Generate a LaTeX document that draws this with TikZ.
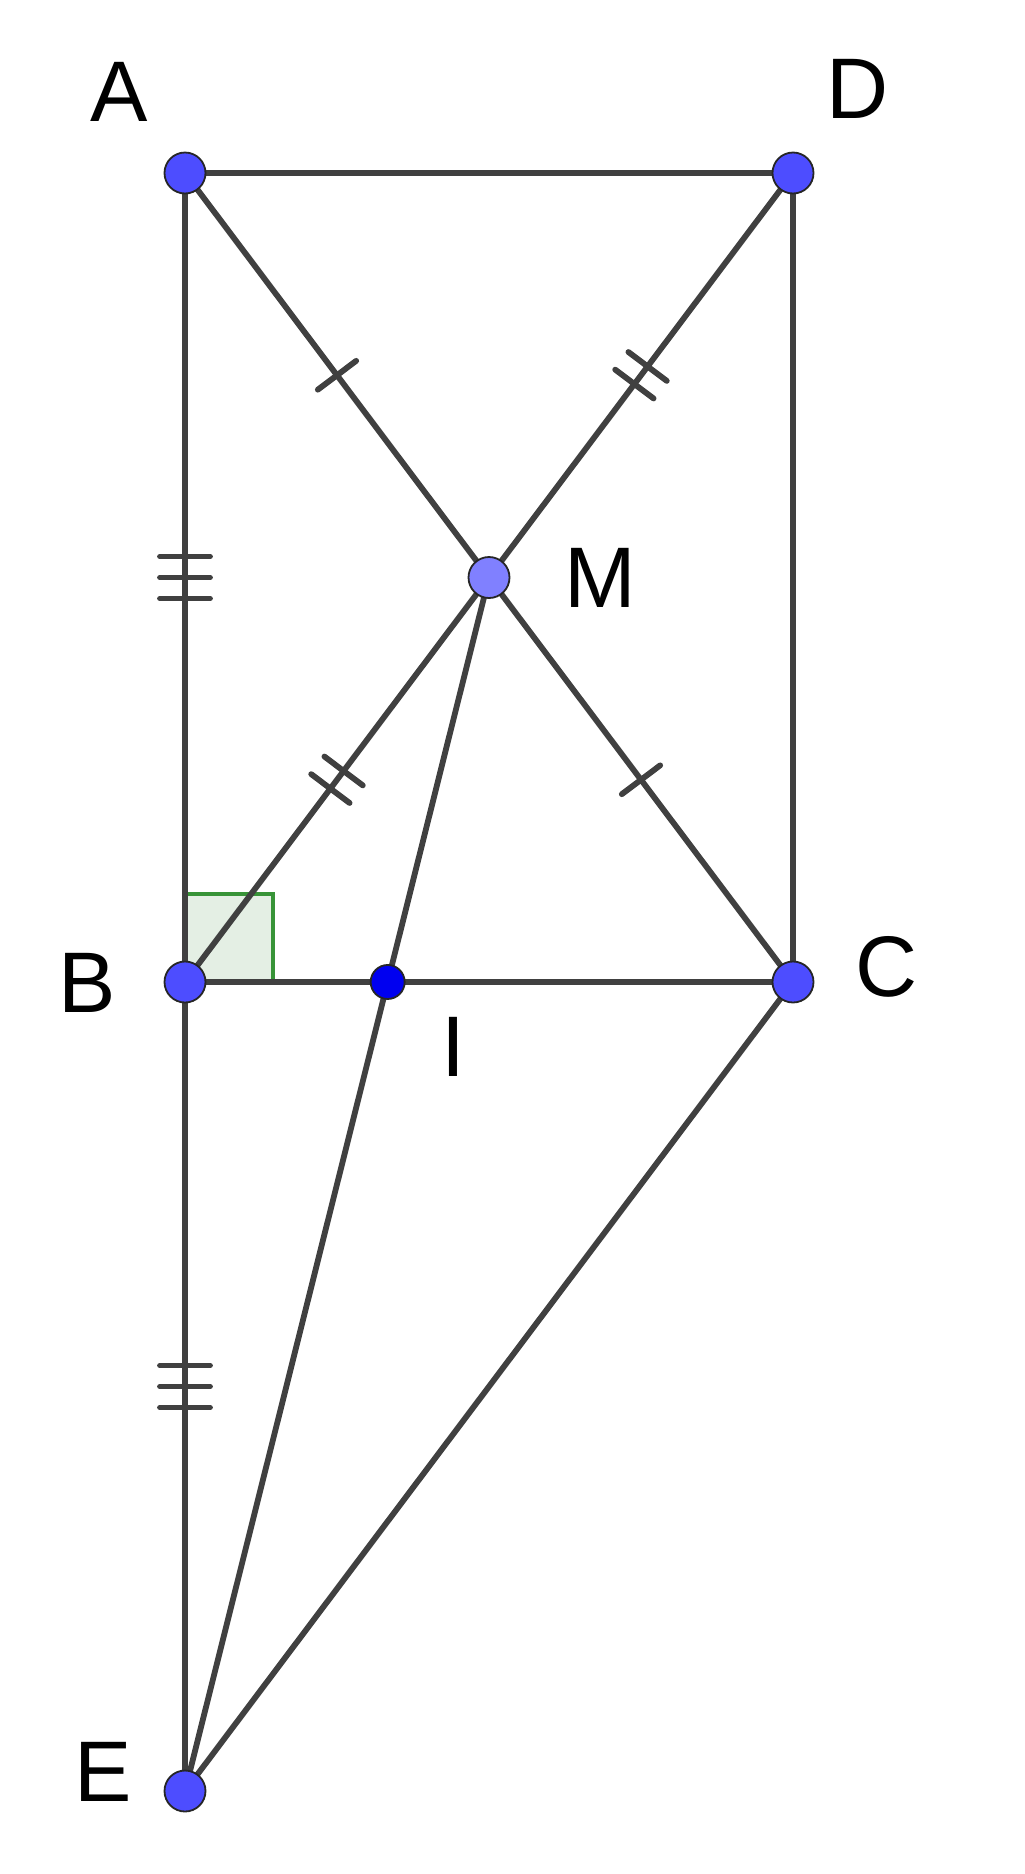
\documentclass[tikz,border=0pt]{standalone}
\usepackage{fontspec}
\setmainfont{Liberation Sans}
\usetikzlibrary{calc,decorations.markings}
\definecolor{seg}{HTML}{404040}
\definecolor{ptblue}{HTML}{4D4DFF}
\definecolor{ptlight}{HTML}{8080FF}
\definecolor{ptdeep}{HTML}{0000F0}
\definecolor{angstroke}{RGB}{56,148,56}
\definecolor{angfill}{HTML}{E4EFE4}
\tikzset{
  seg/.style={draw=seg,line width=2.9pt},
  pt/.style={circle,draw=black!85,line width=0.9pt,fill=ptblue,minimum size=20.5pt,inner sep=0pt},
  ptsmall/.style={circle,draw=black!85,line width=0.9pt,fill=ptdeep,minimum size=17pt,inner sep=0pt},
  lbl/.style={inner sep=0pt,font=\fontsize{43}{43}\selectfont},
  tickone/.style={postaction={decorate},decoration={markings,mark=at position 0.5 with {\draw[seg,line cap=round] (0,-12pt)--(0,12pt);}}},
  ticktwo/.style={postaction={decorate},decoration={markings,mark=at position 0.5 with {\draw[seg,line cap=round] (-5.5pt,-12pt)--(-5.5pt,12pt); \draw[seg,line cap=round] (5.5pt,-12pt)--(5.5pt,12pt);}}},
  tickthree/.style={postaction={decorate},decoration={markings,mark=at position 0.5 with {\draw[seg,line cap=round] (-10.5pt,-12.5pt)--(-10.5pt,12.5pt); \draw[seg,line cap=round] (0pt,-12.5pt)--(0pt,12.5pt); \draw[seg,line cap=round] (10.5pt,-12.5pt)--(10.5pt,12.5pt);}}}
}
\begin{document}
\begin{tikzpicture}[x=0.5pt,y=-0.5pt]
\useasboundingbox[fill=white] (0,0) rectangle (1024,1874);
\coordinate (A) at (185,173);
\coordinate (D) at (793,173);
\coordinate (B) at (185,982);
\coordinate (C) at (793,982);
\coordinate (E) at (185,1791);
\coordinate (M) at ($(A)!0.5!(C)$);
\coordinate (I) at (intersection of M--E and B--C);
% right angle
\draw[fill=angfill,draw=angstroke,line width=2.3pt] (B) rectangle ($(B)+(88,-88)$);
% segments
\draw[seg] (A) -- (D);
\draw[seg] (D) -- (C);
\draw[seg] (B) -- (C);
\draw[seg,tickthree] (A) -- (B);
\draw[seg,tickthree] (B) -- (E);
\draw[seg,tickone] (A) -- (M);
\draw[seg,tickone] (M) -- (C);
\draw[seg,ticktwo] (D) -- (M);
\draw[seg,ticktwo] (M) -- (B);
\draw[seg] (M) -- (E);
\draw[seg] (C) -- (E);
% points
\node[pt] (Ap) at (A) {};
\node[pt] (Dp) at (D) {};
\node[pt] (Bp) at (B) {};
\node[pt] (Cp) at (C) {};
\node[pt] (Ep) at (E) {};
\node[pt,fill=ptlight] (Mp) at (M) {};
\node[ptsmall] (Ip) at (I) {};
% labels
\node[lbl] (LA) at (119,92) {A};
\node[lbl] (LD) at (858,89) {D};
\node[lbl] (LM) at (600,578) {M};
\node[lbl] (LB) at (87,983) {B};
\node[lbl] (LI) at (453,1047) {I};
\node[lbl] (LC) at (887,967) {C};
\node[lbl] (LE) at (103,1772) {E};
\end{tikzpicture}
\end{document}
